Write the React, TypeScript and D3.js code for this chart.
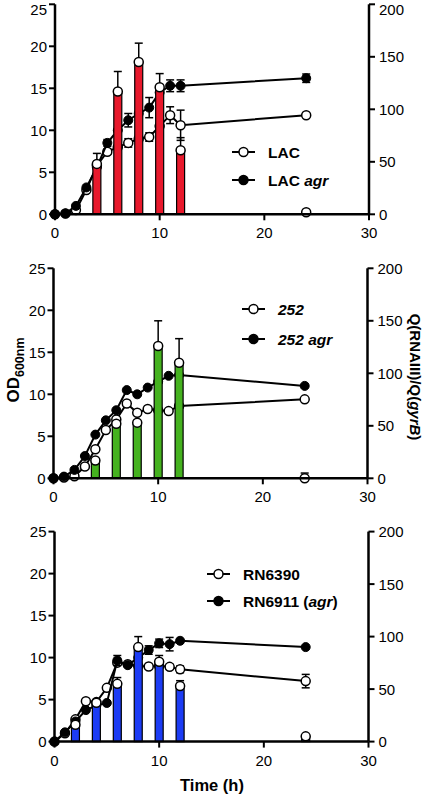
import React from "react";
import * as d3 from "d3";

// ---------- data ----------
const hours = [0, 1, 2, 3, 4, 5, 6, 7, 8, 9, 10, 11, 12, 24];
const xTicks = [0, 10, 20, 30];
const odTicks = [0, 5, 10, 15, 20, 25];
const rnaTicks = [0, 50, 100, 150, 200];

// Panel 1: LAC
const lacOD = [0, 0.1, 0.5, 2.9, 5.8, 7.45, 8.0, 8.5, 9.0, 9.2, 10.5, 11.8, 10.6, 11.8];
const lacODErr = [0, 0, 0, 0, 0, 0.3, 0, 0.5, 0, 0.5, 0, 1.0, 1.8, 0.2];
const lacAgrOD = [0, 0.1, 1.0, 3.2, 5.6, 8.5, 10.0, 11.2, 12.0, 12.7, 14.5, 15.3, 15.3, 16.2];
const lacAgrODErr = [0, 0, 0, 0, 0, 0.4, 0, 0.8, 0, 1.2, 0, 0.7, 0.7, 0.5];
const lacBarHours = [4, 6, 8, 10, 12, 24];
const lacRNA = [48, 117, 145, 121, 61, 2];
const lacRNAErr = [10, 19, 18, 13, 12, 0];

// Panel 2: 252
const s252OD = [0, 0.1, 0.25, 1.4, 3.45, 5.75, 7.0, 8.9, 7.8, 8.25, 8.1, 8.0, 8.6, 9.4];
const s252ODErr = [0, 0, 0, 0, 0, 0, 0, 0, 0, 0, 0, 0, 0, 0];
const s252AgrOD = [0, 0.2, 1.0, 2.65, 5.2, 6.9, 8.1, 10.5, 10.0, 10.8, 11.5, 12.2, 12.3, 11.0];
const s252AgrODErr = [0, 0, 0, 0, 0, 0, 0, 0, 0, 0, 0, 0, 0, 0];
const s252BarHours = [4, 6, 8, 10, 12, 24];
const s252RNA = [17, 52, 53, 126, 110, 0];
const s252RNAErr = [0, 0, 0, 24, 23, 5];

// Panel 3: RN6390 / RN6911
const rnOD = [0, 1.0, 2.65, 4.8, 4.7, 6.4, 9.4, 9.2, 9.0, 8.95, 9.0, 8.9, 8.6, 7.2];
const rnODErr = [0, 0, 0, 0, 0, 0, 0, 0, 0, 0, 0, 0.3, 0.4, 0.8];
const rnAgrOD = [0, 1.1, 2.4, 3.75, 4.3, 4.6, 9.65, 9.1, 10.0, 10.9, 11.7, 11.6, 12.0, 11.25];
const rnAgrODErr = [0, 0, 0, 0, 0, 0, 0.6, 0, 0, 0.5, 0.5, 0.8, 0, 0];
const rnBarHours = [2, 4, 6, 8, 10, 12, 24];
const rnRNA = [16, 37, 55, 90, 76, 53, 5];
const rnRNAErr = [0, 0, 6, 10, 6, 5, 0];

const FONT = "'Liberation Sans', Arial, Helvetica, sans-serif";

type PanelProps = {
  x0: number;
  y0: number;
  od: number[];
  odErr: number[];
  agrOD: number[];
  agrODErr: number[];
  barHours: number[];
  rna: number[];
  rnaErr: number[];
  barColor: string;
  legend: React.ReactNode[];
  legendX: number;
  legendY: number[];
};

const W = 314;
const H = 210;

function Panel(p: PanelProps) {
  const x = d3.scaleLinear().domain([0, 30]).range([p.x0, p.x0 + W]);
  const yL = d3.scaleLinear().domain([0, 25]).range([p.y0, p.y0 - H]);
  const yR = d3.scaleLinear().domain([0, 200]).range([p.y0, p.y0 - H]);
  const line = d3
    .line<number>()
    .x((_, i) => x(hours[i]))
    .y((d) => yL(d));
  const barW = 8;
  const r = 4.5;
  const cap = 4;

  const errBars = (vals: number[], errs: number[]) =>
    vals.map((v, i) =>
      errs[i] > 0 ? (
        <g key={"e" + i} stroke="#000" strokeWidth={1.5}>
          <line x1={x(hours[i])} x2={x(hours[i])} y1={yL(v - errs[i])} y2={yL(v + errs[i])} />
          <line x1={x(hours[i]) - cap} x2={x(hours[i]) + cap} y1={yL(v + errs[i])} y2={yL(v + errs[i])} />
          <line x1={x(hours[i]) - cap} x2={x(hours[i]) + cap} y1={yL(v - errs[i])} y2={yL(v - errs[i])} />
        </g>
      ) : null
    );

  const right = p.x0 + W;
  return (
    <g>
      {/* lines behind bars */}
      <path d={line(p.od) || ""} fill="none" stroke="#000" strokeWidth={2} />
      {errBars(p.od, p.odErr)}
      {p.od.map((v, i) => (
        <circle key={"o" + i} cx={x(hours[i])} cy={yL(v)} r={r} fill="#fff" stroke="#000" strokeWidth={1.5} />
      ))}
      <path d={line(p.agrOD) || ""} fill="none" stroke="#000" strokeWidth={2} />
      {errBars(p.agrOD, p.agrODErr)}
      {p.agrOD.map((v, i) => (
        <circle key={"a" + i} cx={x(hours[i])} cy={yL(v)} r={r} fill="#000" stroke="#000" strokeWidth={1} />
      ))}
      {/* bars */}
      {p.barHours.map((h, i) => (
        <g key={"b" + i}>
          {p.rnaErr[i] > 0 && (
            <g stroke="#000" strokeWidth={1.5}>
              <line x1={x(h)} x2={x(h)} y1={yR(p.rna[i])} y2={yR(p.rna[i] + p.rnaErr[i])} />
              <line x1={x(h) - cap} x2={x(h) + cap} y1={yR(p.rna[i] + p.rnaErr[i])} y2={yR(p.rna[i] + p.rnaErr[i])} />
            </g>
          )}
          <rect
            x={x(h) - barW / 2}
            y={yR(p.rna[i])}
            width={barW}
            height={Math.max(0, p.y0 - yR(p.rna[i]))}
            fill={p.barColor}
            stroke="#000"
            strokeWidth={1.2}
          />
          <circle cx={x(h)} cy={yR(p.rna[i])} r={r} fill="#fff" stroke="#000" strokeWidth={1.5} />
        </g>
      ))}
      {/* axes */}
      <g stroke="#000" strokeWidth={2.5} fill="none">
        <line x1={p.x0} x2={p.x0} y1={p.y0} y2={p.y0 - H} />
        <line x1={right} x2={right} y1={p.y0} y2={p.y0 - H} />
        <line x1={p.x0} x2={right} y1={p.y0} y2={p.y0} />
      </g>
      <g fontFamily={FONT} fontSize={15} fill="#000">
        {odTicks.map((t) => (
          <g key={"l" + t}>
            <line x1={p.x0 - 6} x2={p.x0} y1={yL(t)} y2={yL(t)} stroke="#000" strokeWidth={2} />
            <text x={p.x0 - 8} y={Math.max(yL(t) + 5.5, 14.5)} textAnchor="end">{t}</text>
          </g>
        ))}
        {rnaTicks.map((t) => (
          <g key={"r" + t}>
            <line x1={right} x2={right + 6} y1={yR(t)} y2={yR(t)} stroke="#000" strokeWidth={2} />
            <text x={right + 10} y={Math.max(yR(t) + 5.5, 14.5)}>{t}</text>
          </g>
        ))}
        {xTicks.map((t) => (
          <g key={"x" + t}>
            <line x1={x(t)} x2={x(t)} y1={p.y0} y2={p.y0 + 6} stroke="#000" strokeWidth={2} />
            <text x={x(t)} y={p.y0 + 24} textAnchor="middle">{t}</text>
          </g>
        ))}
      </g>
      {/* legend */}
      {[0, 1].map((k) => (
        <g key={"lg" + k}>
          <line x1={p.legendX} x2={p.legendX + 23} y1={p.legendY[k]} y2={p.legendY[k]} stroke="#000" strokeWidth={2} />
          <circle
            cx={p.legendX + 11.5}
            cy={p.legendY[k]}
            r={r}
            fill={k === 0 ? "#fff" : "#000"}
            stroke="#000"
            strokeWidth={1.5}
          />
          <text
            x={p.legendX + 36}
            y={p.legendY[k] + 5.5}
            fontFamily={FONT}
            fontSize={15.5}
            fontWeight="bold"
          >
            {p.legend[k]}
          </text>
        </g>
      ))}
    </g>
  );
}

export default function App() {
  return (
    <svg
      width={425}
      height={795}
      style={{ position: "absolute", left: 0, top: 0, background: "#fff" }}
    >
      <rect width={425} height={795} fill="#fff" />
      <Panel
        x0={55}
        y0={214.3}
        od={lacOD}
        odErr={lacODErr}
        agrOD={lacAgrOD}
        agrODErr={lacAgrODErr}
        barHours={lacBarHours}
        rna={lacRNA}
        rnaErr={lacRNAErr}
        barColor="#e8192c"
        legend={["LAC", <tspan key="t">LAC <tspan fontStyle="italic">agr</tspan></tspan>]}
        legendX={232}
        legendY={[152, 180]}
      />
      <Panel
        x0={53.5}
        y0={478.3}
        od={s252OD}
        odErr={s252ODErr}
        agrOD={s252AgrOD}
        agrODErr={s252AgrODErr}
        barHours={s252BarHours}
        rna={s252RNA}
        rnaErr={s252RNAErr}
        barColor="#45b21f"
        legend={[
          <tspan key="a" fontStyle="italic">252</tspan>,
          <tspan key="b" fontStyle="italic">252 agr</tspan>,
        ]}
        legendX={242}
        legendY={[309, 339]}
      />
      <Panel
        x0={54.5}
        y0={741.6}
        od={rnOD}
        odErr={rnODErr}
        agrOD={rnAgrOD}
        agrODErr={rnAgrODErr}
        barHours={rnBarHours}
        rna={rnRNA}
        rnaErr={rnRNAErr}
        barColor="#1c3cf5"
        legend={["RN6390", <tspan key="t">RN6911 (<tspan fontStyle="italic">agr</tspan>)</tspan>]}
        legendX={207}
        legendY={[574, 601]}
      />
      {/* axis titles */}
      <text
        transform="translate(19,370) rotate(-90)"
        textAnchor="middle"
        fontFamily={FONT}
        fontWeight="bold"
        fontSize={17}
      >
        OD<tspan fontSize={12.5} dy={5}>600nm</tspan>
      </text>
      <text
        transform="translate(410,377) rotate(90)"
        textAnchor="middle"
        fontFamily={FONT}
        fontWeight="bold"
        fontSize={15}
      >
        Q(RNAIII)/Q(<tspan fontStyle="italic">gyrB</tspan>)
      </text>
      <text x={212} y={791} textAnchor="middle" fontFamily={FONT} fontWeight="bold" fontSize={16.5}>
        Time (h)
      </text>
    </svg>
  );
}
